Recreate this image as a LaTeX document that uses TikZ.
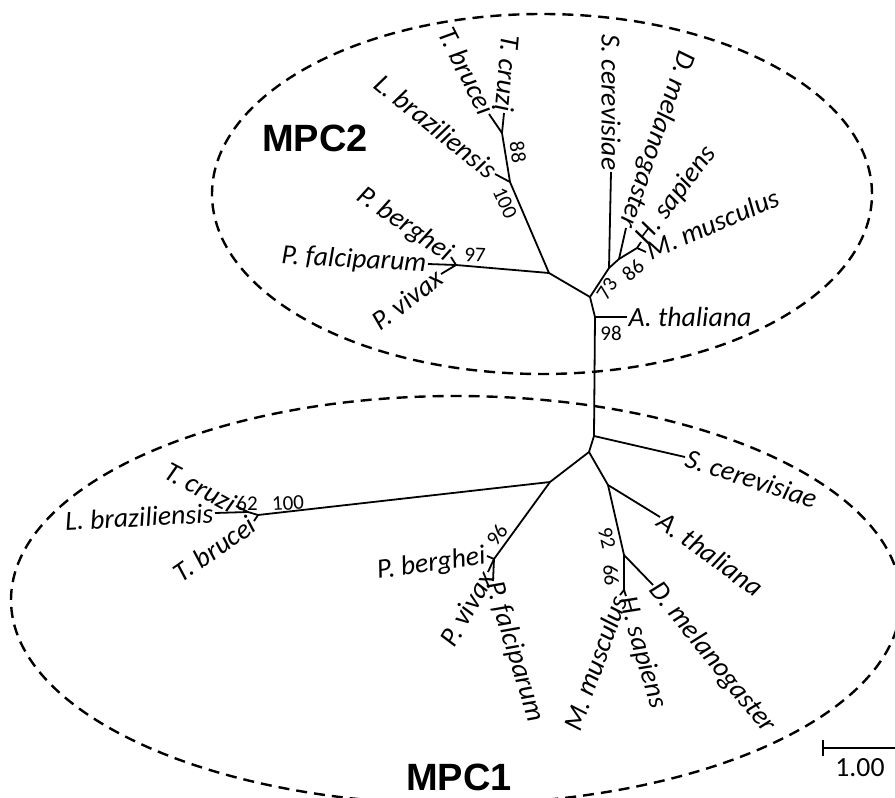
\documentclass[tikz,border=0pt]{standalone}
\usepackage{fontspec}
\setmainfont{Carlito}
\newfontfamily\headfont{Liberation Sans}
\usetikzlibrary{arrows}

\tikzset{
  taxon/.style={font=\fontsize{27.7}{30}\selectfont\itshape, inner sep=1.5pt},
  boot/.style={font=\fontsize{21}{23}\selectfont, inner sep=0pt},
  clade/.style={font=\fontsize{38}{40}\selectfont\headfont\bfseries},
  ring/.style={line width=2.4pt, dash pattern=on 11pt off 7pt},
  branch/.style={line width=1.8pt}
}

\begin{document}
\begin{tikzpicture}[line cap=butt,line join=round,x=1pt,y=-1pt]
\useasboundingbox (0,0) rectangle (895,798);

%ellipsit
\coordinate (c2) at (542,194);
\coordinate (c1) at (456,600);
\draw[ring] (c2) ellipse [x radius=330pt, y radius=180pt];
\draw[ring] (c1) ellipse [x radius=445pt, y radius=204pt];
\node[clade] (mpc2) at (315,138) {MPC2};
\node[clade] (mpc1) at (459,777) {MPC1};

%MPC2 puu
\coordinate (D2) at (595,317);
\coordinate (C2) at (590,297);
\coordinate (A2) at (609,268);
\coordinate (B2) at (619,259);
\coordinate (HM2) at (637,248);
\coordinate (Dm2) at (626,228);
\coordinate (Sc2) at (611,172);
\coordinate (Hs2) at (641,242);
\coordinate (Mm2) at (646,252);
\coordinate (At2) at (627,317);
\coordinate (N2) at (549,273);
\coordinate (K2a) at (510,182);
\coordinate (K2b) at (502,133);
\coordinate (Lb2) at (495,174);
\coordinate (Tb2) at (489,114);
\coordinate (Tc2) at (504,113);
\coordinate (P2) at (456,265);
\coordinate (Pf2) at (428,264);
\coordinate (Pv2) at (441,274);
\coordinate (Pb2) at (451,257);

%MPC1 puu
\coordinate (R1) at (594,436);
\coordinate (Sc1) at (685,457);
\coordinate (R2) at (589,452);
\coordinate (R3) at (550,482);
\coordinate (O1) at (608,485);
\coordinate (At1) at (660,517);
\coordinate (M1) at (624,555);
\coordinate (Dm1) at (653,585);
\coordinate (H1) at (624,590);
\coordinate (Hs1) at (626,596);
\coordinate (Mm1) at (620,595);
\coordinate (K1) at (258,515);
\coordinate (K1b) at (248,512);
\coordinate (Tc1) at (236,506);
\coordinate (Lb1) at (215,513);
\coordinate (Tb1) at (254,521);
\coordinate (P1) at (494,559);
\coordinate (Pb1) at (487,556);
\coordinate (Pv1) at (488,572);
\coordinate (Pf1) at (493,581);

\foreach \u/\v in {D2/R1,D2/At2,D2/C2,C2/A2,A2/Sc2,A2/B2,B2/Dm2,B2/HM2,HM2/Hs2,HM2/Mm2,
  C2/N2,N2/K2a,K2a/Lb2,K2a/K2b,K2b/Tb2,K2b/Tc2,N2/P2,P2/Pf2,P2/Pv2,P2/Pb2,
  R1/Sc1,R1/R2,R2/R3,R2/O1,O1/At1,O1/M1,M1/Dm1,M1/H1,H1/Hs1,H1/Mm1,
  R3/K1,K1/K1b,K1/Tb1,K1b/Tc1,K1b/Lb1,R3/P1,P1/Pb1,P1/Pv1,P1/Pf1}
{\draw[branch] (\u) -- (\v);
}

%nimet, MPC2
\node[taxon,anchor=east,rotate=-95] (tc2) at (Tc2) {T. cruzi};
\node[taxon,anchor=east,rotate=-63] (tb2) at (Tb2) {T. brucei};
\node[taxon,anchor=east,rotate=-39] (lb2) at (Lb2) {L. braziliensis};
\node[taxon,anchor=east,rotate=-35] (pb2) at (Pb2) {P. berghei};
\node[taxon,anchor=east,rotate=-3] (pf2) at (Pf2) {P. falciparum};
\node[taxon,anchor=east,rotate=37] (pv2) at (Pv2) {P. vivax};
\node[taxon,anchor=east,rotate=-90] (sc2) at (Sc2) {S. cerevisiae};
\node[taxon,anchor=east,rotate=-109] (dm2) at (Dm2) {D. melanogaster};
\node[taxon,anchor=west,rotate=53] (hs2) at (Hs2) {H. sapiens};
\node[taxon,anchor=west,rotate=23] (mm2) at (Mm2) {M. musculus};
\node[taxon,anchor=west] (at2) at (At2) {A. thaliana};
\node[boot,rotate=-81] (b88) at (518,152) {88};
\node[boot,rotate=-66] (b100t) at (505,203) {100};
\node[boot,rotate=-3] (b97) at (475,255) {97};
\node[boot,rotate=57] (b73) at (607,289) {73};
\node[boot,rotate=40] (b86) at (633,270) {86};
\node[boot] (b98) at (611,333) {98};

%nimet, MPC1
\node[taxon,anchor=west,rotate=-18] (sc1) at (Sc1) {S. cerevisiae};
\node[taxon,anchor=west,rotate=-36] (at1) at (At1) {A. thaliana};
\node[taxon,anchor=west,rotate=-51] (dm1) at (Dm1) {D. melanogaster};
\node[taxon,anchor=west,rotate=-74] (hs1) at (Hs1) {H. sapiens};
\node[taxon,anchor=east,rotate=70] (mm1) at (Mm1) {M. musculus};
\node[taxon,anchor=east,rotate=-28] (tc1) at (Tc1) {T. cruzi};
\node[taxon,anchor=east,rotate=3] (lb1) at (Lb1) {L. braziliensis};
\node[taxon,anchor=east,rotate=35] (tb1) at (Tb1) {T. brucei};
\node[taxon,anchor=east,rotate=8] (pb1) at (Pb1) {P. berghei};
\node[taxon,anchor=east,rotate=60] (pv1) at (Pv1) {P. vivax};
\node[taxon,anchor=west,rotate=-73] (pf1) at (Pf1) {P. falciparum};
\node[boot,rotate=-77] (b92) at (607,538) {92};
\node[boot,rotate=-85] (b66) at (611,575) {66};
\node[boot] (b62) at (247,503) {62};
\node[boot,rotate=3] (b100b) at (288,503) {100};
\node[boot,rotate=54] (b96) at (497,535) {96};

%mittakaava
\coordinate (s0) at (823,748);
\coordinate (s1) at (895,748);
\draw[line width=1.4pt] (s0) -- (s1);
\draw[line width=1.4pt] ([yshift=8pt]s0) -- ([yshift=-8pt]s0);
\node[font=\fontsize{27.7}{30}\selectfont] (bar) at (860,768) {1.00};
\end{tikzpicture}
\end{document}
